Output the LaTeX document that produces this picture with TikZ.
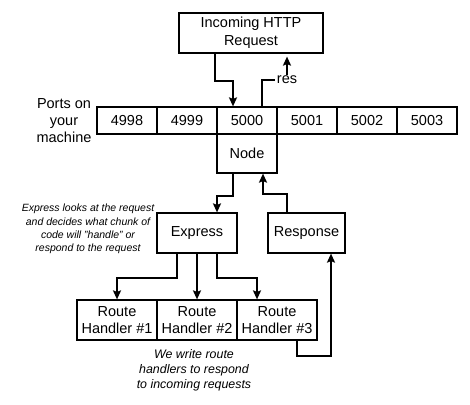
\documentclass[tikz,border=0pt]{standalone}
\usepackage{fontspec}
\setmainfont{Liberation Sans}
\usetikzlibrary{arrows.meta}
\begin{document}
\begin{tikzpicture}[x=1pt,y=-1pt,
  box/.style={draw, line width=1.2pt, minimum height=40pt, inner sep=0pt, align=center, font=\fontsize{14.5}{17.5}\selectfont},
  port/.style={box, minimum width=60pt, minimum height=27pt},
  note/.style={align=center, font=\itshape\fontsize{10.5}{13.3}\selectfont},
  flow/.style={-{Stealth[length=9pt,width=8pt,inset=1.5pt]}, line width=2pt}]
\useasboundingbox (0,0) rectangle (470,404);
\node[box, minimum width=144pt] (req) at (251,33) {Incoming HTTP\\Request};
\foreach \p [count=\i] in {4998,...,5003}
  \node[port] (p\p) at (67+\i*60,120.5) {\p};
\node[align=center, font=\fontsize{14.5}{17}\selectfont] (ports) at (64,121) {Ports on\\your\\machine};
\node[box, minimum width=60pt, minimum height=39pt] (nodejs) at (247,153.5) {Node};
\node[box, minimum width=80pt] (express) at (197,233) {Express};
\node[box, minimum width=77pt] (resp) at (306.5,233) {Response};
\foreach \i in {1,2,3}
  \node[box, minimum width=80pt] (route\i) at (37+\i*80,320) {Route\\Handler \#\i};
\node[note] (expnote) at (88,229) {Express looks at the request\\and decides what chunk of\\code will "handle" or\\respond to the request};
\node[note, font=\itshape\fontsize{12.4}{15}\selectfont] (routenote) at (194,370) {We write route\\handlers to respond\\to incoming requests};
\coordinate (resbend) at (287,80);
% request in, response out
\draw[flow] ([xshift=-36pt]req.south) -- ++(0,27) -| ([xshift=-14pt]p5000.north);
\draw[flow, shorten >=3pt] ([xshift=15pt]p5000.north) |- (resbend)
  node[fill=white, inner sep=1.5pt, font=\fontsize{14.5}{17}\selectfont] (res) {res}
  -- ([xshift=36pt]req.south);
\draw[flow] ([xshift=-14pt]nodejs.south) -- ++(0,22) -| ([xshift=20pt]express.north);
\draw[flow] ([xshift=-19.5pt]resp.north) -- ++(0,-18) -| ([xshift=16pt]nodejs.south);
% express to the handlers
\draw[flow] ([xshift=-20pt]express.south) -- ++(0,24) -| (route1.north);
\draw[flow] (express.south) -- (route2.north);
\draw[flow] ([xshift=20pt]express.south) -- ++(0,24) -| ([xshift=-20pt]route3.north);
\draw[flow] ([xshift=20pt]route3.south) -- ++(0,15) -| ([xshift=24.5pt]resp.south);
\end{tikzpicture}
\end{document}
